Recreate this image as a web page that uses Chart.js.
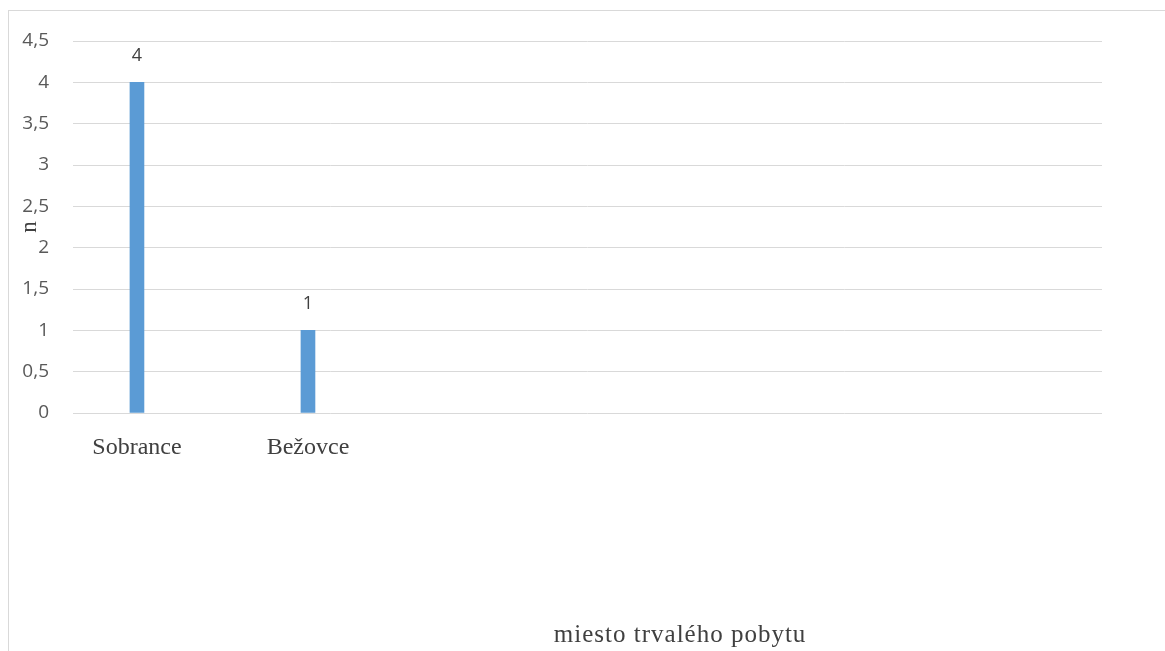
<!DOCTYPE html>
<html lang="sk">
<head>
    <meta charset="UTF-8">
    <title>miesto trvalého pobytu</title>
    <script src="https://cdn.jsdelivr.net/npm/chart.js"></script>
    <style>
        html, body { margin: 0; padding: 0; overflow: hidden; background: #fff; }
        #frame {
            position: absolute; left: 8px; top: 10px;
            width: 1300px; height: 800px;
            border: 1px solid #d9d9d9;
        }
        #chart { position: absolute; left: 0; top: 0; }
    </style>
</head>
<body>
    <div id="frame"></div>
    <canvas id="chart" width="1165" height="651"></canvas>

    <script>
        // data
        const categories = ['Sobrance', 'Bežovce'];
        const counts = [4, 1];
        const yTicks = [0, 0.5, 1, 1.5, 2, 2.5, 3, 3.5, 4, 4.5];
        const yTitle = 'n';
        const xTitle = 'miesto trvalého pobytu';

        const serif = '"Liberation Serif", "DejaVu Serif", serif';
        const sans = '"Open Sans", "Liberation Sans", sans-serif';

        // value labels above bars
        const valueLabels = {
            id: 'valueLabels',
            afterDatasetsDraw(chart) {
                const ctx = chart.ctx;
                const meta = chart.getDatasetMeta(0);
                ctx.save();
                ctx.font = '18px ' + sans;
                ctx.fillStyle = '#404040';
                ctx.textAlign = 'center';
                ctx.textBaseline = 'middle';
                meta.data.forEach((bar, i) => {
                    ctx.fillText(String(counts[i]), bar.x, bar.y - 26);
                });
                ctx.restore();
            }
        };

        // x axis title sits right of centre in the original
        const xTitlePlugin = {
            id: 'xTitle',
            afterDraw(chart) {
                const ctx = chart.ctx;
                const a = chart.chartArea;
                ctx.save();
                ctx.font = '25px ' + serif;
                ctx.letterSpacing = '1px';
                ctx.fillStyle = '#404040';
                ctx.textAlign = 'center';
                ctx.textBaseline = 'middle';
                ctx.fillText(xTitle, a.left + (a.right - a.left) * 0.59, 635);
                ctx.restore();
            }
        };

        new Chart(document.getElementById('chart'), {
            type: 'bar',
            data: {
                datasets: [{
                    data: categories.map((c, i) => ({ x: i, y: counts[i] })),
                    backgroundColor: '#5b9bd5',
                    barThickness: 14
                }]
            },
            options: {
                responsive: false,
                animation: false,
                devicePixelRatio: 1,
                layout: { padding: { left: 0, right: 63, top: 41, bottom: 0 } },
                plugins: {
                    legend: { display: false },
                    tooltip: { enabled: false }
                },
                scales: {
                    x: {
                        type: 'linear',
                        bounds: 'data',
                        offset: false,
                        min: -0.374,
                        max: 5.643,
                        grid: { display: false, offset: false },
                        border: { display: false },
                        afterBuildTicks: s => { s.ticks = categories.map((c, i) => ({ value: i })); },
                        afterFit: s => { s.height = 238; },
                        ticks: {
                            autoSkip: false,
                            maxRotation: 0,
                            padding: 12,
                            color: '#404040',
                            font: { family: serif, size: 24 },
                            callback: v => categories[v] !== undefined ? categories[v] : ''
                        }
                    },
                    y: {
                        min: yTicks[0],
                        max: yTicks[yTicks.length - 1],
                        afterFit: s => { s.width = 73; },
                        afterBuildTicks: s => { s.ticks = yTicks.map(v => ({ value: v })); },
                        grid: { color: '#d9d9d9', lineWidth: 1, drawTicks: false },
                        border: { display: false },
                        ticks: {
                            padding: 24,
                            color: '#595959',
                            font: { family: sans, size: 19 },
                            callback: v => String(v).replace('.', ',')
                        },
                        title: {
                            display: true,
                            text: yTitle,
                            color: '#404040',
                            font: { family: serif, size: 23 },
                            padding: { top: 16, bottom: 0 }
                        }
                    }
                }
            },
            plugins: [valueLabels, xTitlePlugin]
        });
    </script>
</body>
</html>
